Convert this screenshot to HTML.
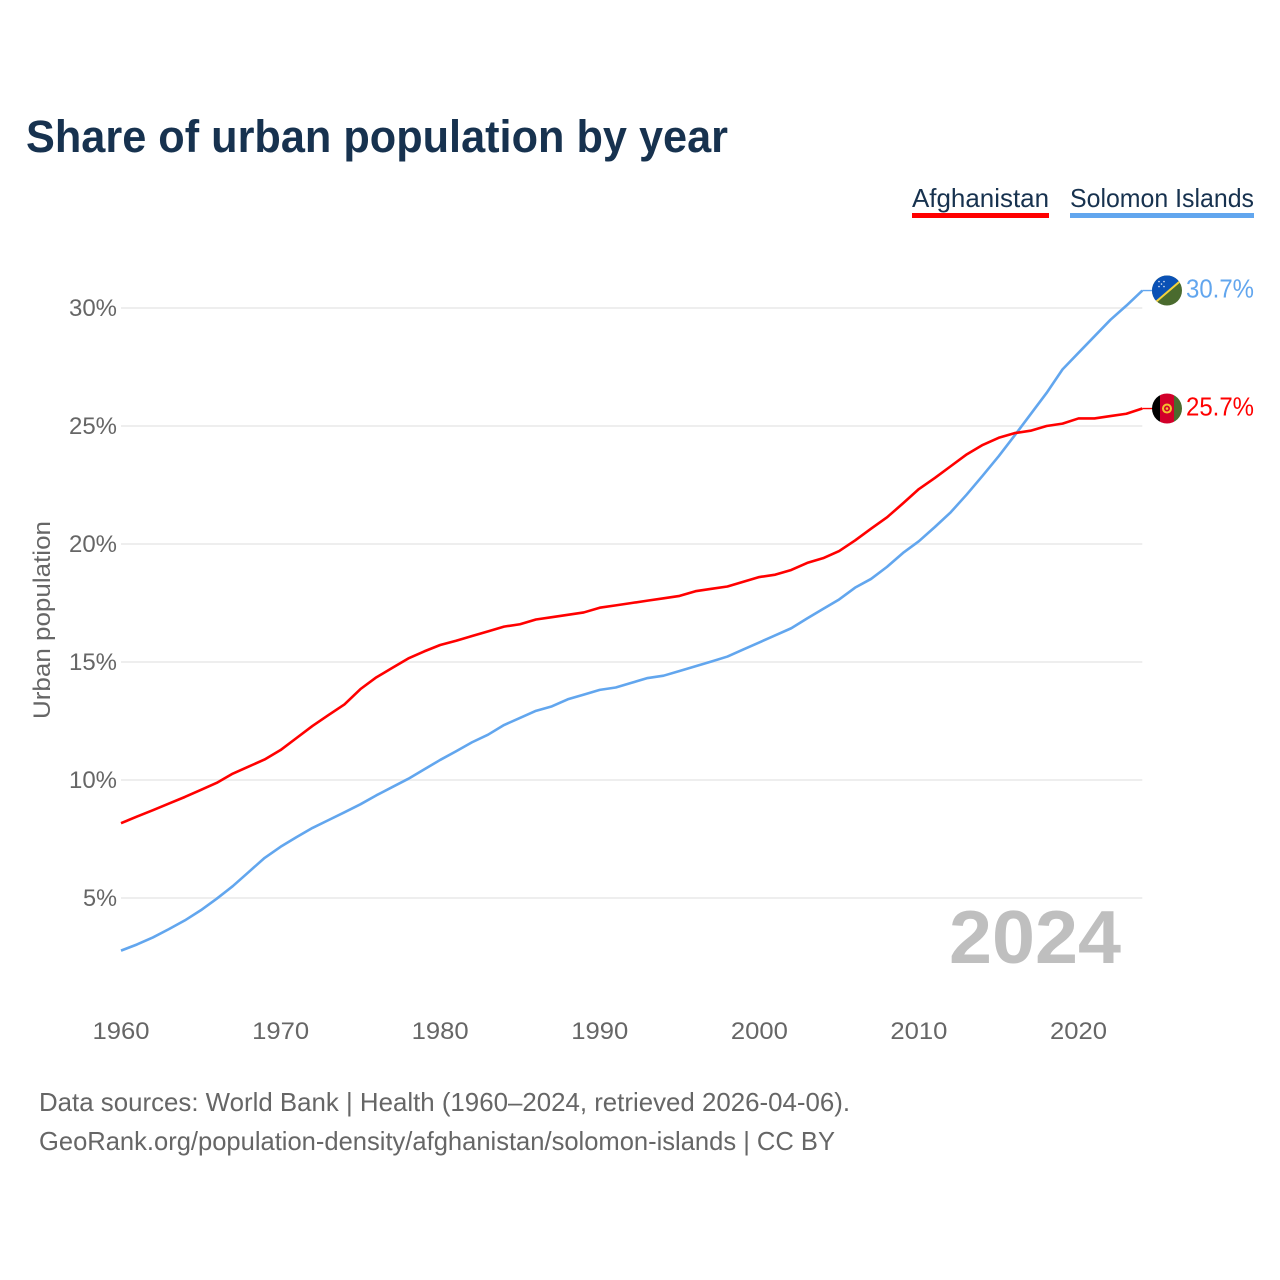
<!DOCTYPE html>
<html lang="en">
<head>
<meta charset="utf-8">
<title>Share of urban population by year</title>
<style>
html,body{margin:0;padding:0;background:#fff;width:1280px;height:1280px;overflow:hidden}
svg{display:block}
text{font-family:"Liberation Sans",sans-serif}
</style>
</head>
<body>
<svg id="chart" xmlns="http://www.w3.org/2000/svg" width="1280" height="1280" viewBox="0 0 1280 1280">
  <defs>
    <clipPath id="flag-clip-solomon"><circle cx="0" cy="0" r="15"/></clipPath>
    <clipPath id="flag-clip-afghanistan"><circle cx="0" cy="0" r="15"/></clipPath>
  </defs>
  <text x="26" y="152" font-size="45" font-weight="700" fill="#17324f" textLength="702" lengthAdjust="spacingAndGlyphs">Share of urban population by year</text>

  <text x="912" y="207" font-size="26" fill="#17324f" textLength="137" lengthAdjust="spacingAndGlyphs">Afghanistan</text>
  <rect x="912" y="213" width="137" height="5" fill="#ff0000"/>
  <text x="1070" y="207" font-size="26" fill="#17324f" textLength="184" lengthAdjust="spacingAndGlyphs">Solomon Islands</text>
  <rect x="1070" y="213" width="184" height="5" fill="#62a6ee"/>

  <g id="grid"></g>
  <g id="y-axis"></g>
  <g id="x-axis"></g>
  <text transform="translate(50,620) rotate(-90)" text-anchor="middle" font-size="24" fill="#666666" textLength="198" lengthAdjust="spacingAndGlyphs">Urban population</text>
  <text x="949" y="963" font-size="75" font-weight="700" fill="#bfbfbf" textLength="172" lengthAdjust="spacingAndGlyphs">2024</text>

  <g id="series"></g>

  <g id="flag-solomon">
    <g clip-path="url(#flag-clip-solomon)">
      <rect x="-15" y="-15" width="30" height="30" fill="#4a6b2e"/>
      <polygon points="-15,-15 15,-15 15,-10.5 -15,15" fill="#0a51b5"/>
      <line x1="-13" y1="13" x2="15" y2="-11" stroke="#f4d23c" stroke-width="2"/>
      <g fill="#dfe8f5">
        <circle cx="-8" cy="-9" r="0.8"/><circle cx="-3" cy="-9" r="0.8"/><circle cx="-5.5" cy="-6.5" r="0.8"/><circle cx="-8" cy="-4" r="0.8"/><circle cx="-3" cy="-4" r="0.8"/>
      </g>
    </g>
  </g>
  <g id="flag-afghanistan">
    <g clip-path="url(#flag-clip-afghanistan)">
      <rect x="-15" y="-15" width="8" height="30" fill="#000000"/>
      <rect x="-7" y="-15" width="14" height="30" fill="#d2002a"/>
      <rect x="7" y="-15" width="8" height="30" fill="#4a6b2e"/>
      <circle cx="0" cy="0" r="4" fill="none" stroke="#f2c230" stroke-width="2"/>
      <circle cx="0" cy="0" r="1.3" fill="#f2c230"/>
    </g>
  </g>
  <text id="label-solomon" x="1186" font-size="26" fill="#62a6ee" textLength="68" lengthAdjust="spacingAndGlyphs"></text>
  <text id="label-afghanistan" x="1186" font-size="26" fill="#ff0000" textLength="68" lengthAdjust="spacingAndGlyphs"></text>

  <text x="39" y="1111" font-size="26" fill="#666666" textLength="811" lengthAdjust="spacingAndGlyphs">Data sources: World Bank | Health (1960–2024, retrieved 2026-04-06).</text>
  <text x="39" y="1150" font-size="26" fill="#666666" textLength="796" lengthAdjust="spacingAndGlyphs">GeoRank.org/population-density/afghanistan/solomon-islands | CC BY</text>
</svg>
<script>
const startYear = 1960;
const xTicks = [1960, 1970, 1980, 1990, 2000, 2010, 2020];
const yTicks = [5, 10, 15, 20, 25, 30];
const afghanistan = [8.17,8.45,8.72,9.0,9.28,9.58,9.88,10.27,10.57,10.87,11.27,11.78,12.29,12.75,13.2,13.85,14.35,14.75,15.15,15.45,15.72,15.9,16.1,16.3,16.5,16.6,16.8,16.9,17.0,17.1,17.3,17.4,17.5,17.6,17.7,17.8,18.0,18.1,18.2,18.4,18.6,18.7,18.9,19.2,19.4,19.7,20.15,20.65,21.13,21.72,22.33,22.8,23.3,23.8,24.2,24.5,24.7,24.8,25.0,25.1,25.32,25.32,25.42,25.52,25.74];
const solomonIslands = [2.77,3.03,3.33,3.68,4.05,4.48,4.97,5.5,6.1,6.7,7.17,7.58,7.97,8.3,8.63,8.97,9.35,9.7,10.05,10.45,10.85,11.22,11.6,11.92,12.33,12.63,12.93,13.12,13.42,13.62,13.82,13.92,14.12,14.32,14.42,14.62,14.82,15.02,15.23,15.53,15.83,16.13,16.43,16.85,17.25,17.65,18.15,18.52,19.03,19.62,20.12,20.72,21.35,22.1,22.9,23.72,24.6,25.5,26.4,27.4,28.1,28.8,29.5,30.1,30.74];

const NS = 'http://www.w3.org/2000/svg';
function xScale(year){ return 121 + (year - 1960) * (1078.5 - 121) / 60; }
function yScale(v){ return 1016 - v * 23.6; }
const lastYear = startYear + afghanistan.length - 1;

const gridGroup = document.getElementById('grid');
const yAxisGroup = document.getElementById('y-axis');
const xAxisGroup = document.getElementById('x-axis');
const seriesGroup = document.getElementById('series');

yTicks.forEach(function(t){
  const line = document.createElementNS(NS, 'line');
  
  
  line.setAttribute('x1', xScale(startYear));
  line.setAttribute('x2', xScale(lastYear));
  line.setAttribute('y1', yScale(t));
  line.setAttribute('y2', yScale(t));
  line.setAttribute('stroke', '#eeeeee');
  line.setAttribute('stroke-width', '2');
  gridGroup.appendChild(line);

  const label = document.createElementNS(NS, 'text');
  
  
  label.setAttribute('x', 117);
  label.setAttribute('y', yScale(t) + 8);
  label.setAttribute('text-anchor', 'end');
  label.setAttribute('font-size', '24');
  label.setAttribute('fill', '#666666');
  label.setAttribute('textLength', t >= 10 ? 48 : 34);
  label.setAttribute('lengthAdjust', 'spacingAndGlyphs');
  label.textContent = t + '%';
  yAxisGroup.appendChild(label);
});

xTicks.forEach(function(t){
  const label = document.createElementNS(NS, 'text');
  
  
  label.setAttribute('x', xScale(t));
  label.setAttribute('y', 1039);
  label.setAttribute('text-anchor', 'middle');
  label.setAttribute('font-size', '24');
  label.setAttribute('fill', '#666666');
  label.setAttribute('textLength', 57);
  label.setAttribute('lengthAdjust', 'spacingAndGlyphs');
  label.textContent = String(t);
  xAxisGroup.appendChild(label);
});

function drawLine(values, color){
  const pts = values.map(function(v, i){
    return xScale(startYear + i).toFixed(2) + ',' + yScale(v).toFixed(2);
  });
  const line = document.createElementNS(NS, 'polyline');
  line.setAttribute('fill', 'none');
  line.setAttribute('stroke', color);
  line.setAttribute('stroke-width', '2.6');
  line.setAttribute('stroke-linejoin', 'round');
  line.setAttribute('points', pts.join(' '));
  return line;
}

function drawConnector(value, color){
  const c = document.createElementNS(NS, 'line');
  c.setAttribute('x1', xScale(lastYear));
  c.setAttribute('x2', 1153);
  c.setAttribute('y1', yScale(value));
  c.setAttribute('y2', yScale(value));
  c.setAttribute('stroke', color);
  c.setAttribute('stroke-width', '1.4');
  return c;
}

const lineSolomon = drawLine(solomonIslands, '#62a6ee');


seriesGroup.appendChild(lineSolomon);

const lineAfghanistan = drawLine(afghanistan, '#ff0000');


seriesGroup.appendChild(lineAfghanistan);

const endSolomon = solomonIslands[solomonIslands.length - 1];
const endAfghanistan = afghanistan[afghanistan.length - 1];

const connectorSolomon = drawConnector(endSolomon, '#62a6ee');


seriesGroup.appendChild(connectorSolomon);

const connectorAfghanistan = drawConnector(endAfghanistan, '#ff0000');


seriesGroup.appendChild(connectorAfghanistan);

document.getElementById('flag-solomon').setAttribute('transform', 'translate(1167,' + yScale(endSolomon) + ')');
document.getElementById('flag-afghanistan').setAttribute('transform', 'translate(1167,' + yScale(endAfghanistan) + ')');
const labelSolomon = document.getElementById('label-solomon');
labelSolomon.setAttribute('y', yScale(endSolomon) + 7);
labelSolomon.textContent = endSolomon.toFixed(1) + '%';
const labelAfghanistan = document.getElementById('label-afghanistan');
labelAfghanistan.setAttribute('y', yScale(endAfghanistan) + 7);
labelAfghanistan.textContent = endAfghanistan.toFixed(1) + '%';
</script>
</body>
</html>
